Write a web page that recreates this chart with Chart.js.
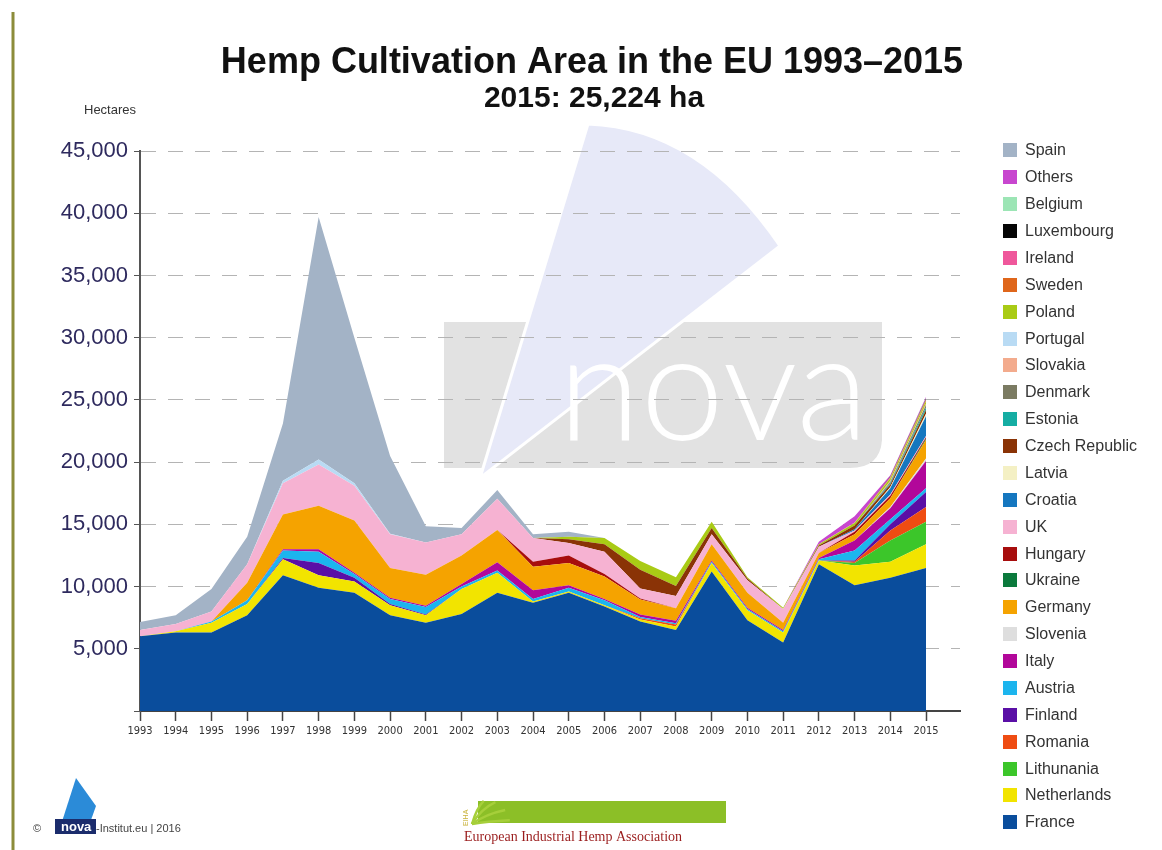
<!DOCTYPE html>
<html>
<head>
<meta charset="utf-8">
<script src="https://cdn.jsdelivr.net/npm/chart.js@4/dist/chart.umd.min.js"></script>
<style>
html, body { margin: 0; padding: 0; background: #fff; }
#wrap { position: relative; width: 1162px; height: 850px; }
#legend { position: absolute; left: 1003px; top: 137px; font: 16px "Liberation Sans", Arial, sans-serif; color: #333; }
.item { height: 26.88px; display: flex; align-items: center; }
.box { width: 14px; height: 14px; margin-right: 8px; }
</style>
</head>
<body>
<div id="wrap">
  <canvas id="chart" width="1162" height="850"></canvas>
  <div id="legend"></div>
</div>
<script>
// hectares per year, 1993..2015
var years = [1993, 1994, 1995, 1996, 1997, 1998, 1999, 2000, 2001, 2002, 2003, 2004,
             2005, 2006, 2007, 2008, 2009, 2010, 2011, 2012, 2013, 2014, 2015];
var yTicks = [0, 5000, 10000, 15000, 20000, 25000, 30000, 35000, 40000, 45000];

var france      = [6000, 6300, 6300, 7700, 10900, 9900, 9500, 7700, 7100, 7800, 9500, 8700, 9500, 8400, 7200, 6500, 11200, 7300, 5500, 11800, 10100, 10700, 11500];
var netherlands = [0, 100, 800, 900, 1300, 1000, 900, 800, 600, 2000, 1600, 100, 100, 100, 150, 300, 700, 800, 800, 300, 1600, 1300, 1900];
var lithuania   = [0, 0, 0, 0, 0, 0, 0, 0, 0, 0, 0, 0, 0, 0, 0, 0, 0, 0, 0, 0, 200, 1700, 1800];
var romania     = [0, 0, 0, 0, 0, 0, 0, 0, 0, 0, 0, 0, 0, 0, 100, 150, 0, 0, 0, 0, 100, 800, 1200];
var finland     = [0, 0, 0, 0, 100, 1000, 300, 100, 50, 0, 0, 0, 0, 0, 0, 0, 0, 0, 0, 0, 100, 500, 1200];
var austria     = [0, 0, 100, 300, 600, 900, 300, 400, 600, 200, 200, 200, 300, 400, 100, 100, 100, 100, 100, 100, 800, 400, 300];
var italy       = [0, 0, 0, 0, 100, 200, 100, 100, 100, 200, 650, 700, 200, 100, 200, 200, 100, 100, 100, 100, 800, 900, 2200];
var slovenia    = [0, 0, 0, 0, 0, 0, 0, 0, 0, 0, 0, 0, 0, 0, 0, 0, 0, 0, 0, 0, 0, 100, 200];
var germany     = [0, 0, 0, 1400, 2800, 3500, 4200, 2400, 2500, 2300, 2600, 1900, 1800, 1800, 1200, 1000, 1300, 1200, 600, 400, 500, 700, 1500];
var ukraine     = [0, 0, 0, 0, 0, 0, 0, 0, 0, 0, 0, 0, 0, 0, 0, 0, 0, 0, 0, 0, 0, 0, 100];
var hungary     = [0, 0, 0, 0, 0, 0, 0, 0, 0, 0, 0, 400, 600, 200, 100, 0, 0, 0, 0, 0, 200, 200, 100];
var uk          = [500, 600, 800, 1500, 2500, 3300, 2800, 2700, 2600, 1700, 2500, 1900, 1000, 1800, 800, 1000, 800, 1000, 1100, 500, 100, 100, 100];
var croatia     = [0, 0, 0, 0, 0, 0, 0, 0, 0, 0, 0, 0, 0, 0, 0, 0, 0, 0, 0, 0, 100, 500, 1600];
var latvia      = [0, 0, 0, 0, 0, 0, 0, 0, 0, 0, 0, 0, 0, 0, 0, 0, 0, 0, 0, 0, 0, 100, 200];
var czech       = [0, 0, 0, 0, 0, 0, 0, 0, 0, 0, 0, 0, 300, 600, 1500, 800, 500, 150, 0, 100, 300, 200, 300];
var estonia     = [0, 0, 0, 0, 0, 0, 0, 0, 0, 0, 0, 0, 0, 0, 0, 0, 0, 0, 0, 0, 0, 100, 200];
var denmark     = [0, 0, 0, 0, 0, 0, 0, 0, 0, 0, 0, 0, 0, 0, 0, 0, 0, 0, 0, 0, 0, 100, 200];
var slovakia    = [0, 0, 0, 0, 0, 0, 0, 0, 0, 0, 0, 0, 0, 0, 0, 0, 0, 0, 0, 0, 0, 100, 100];
var portugal    = [0, 0, 0, 0, 200, 400, 200, 50, 0, 0, 0, 0, 0, 0, 0, 0, 0, 0, 0, 0, 0, 0, 0];
var poland      = [0, 0, 0, 0, 0, 0, 0, 0, 0, 0, 0, 0, 200, 500, 700, 700, 500, 100, 100, 100, 200, 200, 200];
var sweden      = [0, 0, 0, 0, 0, 0, 0, 0, 0, 0, 0, 0, 0, 0, 0, 0, 0, 0, 0, 0, 0, 50, 100];
var ireland     = [0, 0, 0, 0, 0, 0, 0, 0, 0, 0, 0, 0, 0, 0, 0, 0, 0, 0, 0, 0, 50, 50, 50];
var luxembourg  = [0, 0, 0, 0, 0, 0, 0, 0, 0, 0, 0, 0, 0, 0, 0, 0, 0, 0, 0, 0, 0, 50, 50];
var belgium     = [0, 0, 0, 0, 0, 0, 0, 0, 0, 0, 0, 0, 0, 0, 0, 0, 0, 0, 0, 0, 0, 0, 50];
var others      = [0, 0, 0, 0, 0, 0, 0, 0, 0, 0, 0, 0, 0, 0, 0, 0, 0, 0, 0, 200, 500, 100, 100];
var spain       = [650, 700, 1800, 2200, 4600, 19500, 11700, 6250, 1300, 500, 700, 300, 400, 0, 0, 0, 0, 0, 0, 0, 0, 0, 0];

// stacking order, bottom to top
var countries = ["France", "Netherlands", "Lithunania", "Romania", "Finland", "Austria", "Italy", "Slovenia",
                 "Germany", "Ukraine", "Hungary", "UK", "Croatia", "Latvia", "Czech Republic", "Estonia",
                 "Denmark", "Slovakia", "Portugal", "Poland", "Sweden", "Ireland", "Luxembourg", "Belgium",
                 "Others", "Spain"];
var series = [france, netherlands, lithuania, romania, finland, austria, italy, slovenia,
              germany, ukraine, hungary, uk, croatia, latvia, czech, estonia,
              denmark, slovakia, portugal, poland, sweden, ireland, luxembourg, belgium,
              others, spain];
var colors = ["#0a4d9c", "#f2e400", "#3cc62a", "#ef4c12", "#5a0fa6", "#1cb5ee", "#b2079a", "#dedede",
              "#f5a300", "#0b7a3c", "#a70d0d", "#f6b2d2", "#1577bf", "#f4f0c4", "#8a3306", "#15ada3",
              "#7b7b62", "#f3ab8d", "#b9dbf4", "#a9cb15", "#df661b", "#ef579b", "#050505", "#9ce5b5",
              "#c846cf", "#a3b3c6"];

var datasets = countries.map(function (name, i) {
  return {
    label: name,
    data: series[i].map(function (v, j) { return {x: years[j], y: v}; }),
    backgroundColor: colors[i],
    borderWidth: 0,
    pointRadius: 0,
    fill: i === 0 ? 'origin' : '-1'
  };
});

var decor = {
  id: 'decor',
  beforeDraw: function (chart) {
    var ctx = chart.ctx;
    ctx.save();
    // watermark banner
    ctx.fillStyle = '#e2e2e2';
    ctx.beginPath();
    ctx.moveTo(444, 322);
    ctx.lineTo(882, 322);
    ctx.lineTo(882, 440);
    ctx.quadraticCurveTo(880, 468, 850, 468);
    ctx.lineTo(444, 468);
    ctx.closePath();
    ctx.fill();
    // fan
    ctx.fillStyle = '#e7e9f8';
    ctx.strokeStyle = '#ffffff';
    ctx.lineWidth = 3;
    ctx.beginPath();
    ctx.moveTo(480, 478);
    ctx.lineTo(588, 124);
    ctx.quadraticCurveTo(700, 128, 780, 246);
    ctx.closePath();
    ctx.fill();
    ctx.stroke();
    // nova
    ctx.fillStyle = '#ffffff';
    ctx.font = '300 150px Lato';
    ctx.textBaseline = 'alphabetic';
    ctx.fillText('nova', 558, 440);
    ctx.restore();
  },
  afterDraw: function (chart) {
    var ctx = chart.ctx;
    ctx.save();
    // left rule
    ctx.strokeStyle = '#8c8c3a';
    ctx.lineWidth = 3;
    ctx.beginPath();
    ctx.moveTo(13, 12);
    ctx.lineTo(13, 850);
    ctx.stroke();
    // titles
    ctx.fillStyle = '#111';
    ctx.textAlign = 'center';
    ctx.font = 'bold 36px "Liberation Sans", Arial';
    ctx.fillText('Hemp Cultivation Area in the EU 1993\u20132015', 592, 73);
    ctx.font = 'bold 30px "Liberation Sans", Arial';
    ctx.fillText('2015: 25,224 ha', 594, 107);
    ctx.textAlign = 'left';
    ctx.fillStyle = '#333';
    ctx.font = '13px "Liberation Sans", Arial';
    ctx.fillText('Hectares', 84, 114);
    // nova footer
    ctx.fillStyle = '#2b8bd8';
    ctx.beginPath();
    ctx.moveTo(58, 834);
    ctx.lineTo(76, 778);
    ctx.lineTo(96, 806);
    ctx.lineTo(86, 834);
    ctx.closePath();
    ctx.fill();
    ctx.fillStyle = '#1b2c6c';
    ctx.fillRect(55, 819, 41, 15);
    ctx.fillStyle = '#fff';
    ctx.font = 'bold 13px "Liberation Sans", Arial';
    ctx.fillText('nova', 61, 831);
    ctx.fillStyle = '#444';
    ctx.font = '11px "Liberation Sans", Arial';
    ctx.fillText('\u00a9', 33, 832);
    ctx.fillText('-Institut.eu | 2016', 96, 832);
    // EIHA footer
    ctx.fillStyle = '#8cbf27';
    ctx.fillRect(478, 801, 248, 22);
    ctx.strokeStyle = '#a6cf3a';
    ctx.lineWidth = 2.5;
    [[-1.1, 26], [-0.75, 32], [-0.4, 36], [-0.1, 38]].forEach(function (l) {
      ctx.beginPath();
      ctx.moveTo(472, 824);
      ctx.quadraticCurveTo(472 + Math.cos(l[0]) * l[1] * 0.4, 824 + Math.sin(l[0]) * l[1] * 0.7,
                           472 + Math.cos(l[0]) * l[1], 824 + Math.sin(l[0]) * l[1]);
      ctx.stroke();
    });
    ctx.save();
    ctx.translate(468, 826);
    ctx.rotate(-Math.PI / 2);
    ctx.fillStyle = '#c9b23a';
    ctx.font = '7px "Liberation Sans", Arial';
    ctx.fillText('EIHA', 0, 0);
    ctx.restore();
    ctx.fillStyle = '#9a1c1c';
    ctx.font = '14px "Liberation Serif", serif';
    ctx.fillText('European Industrial Hemp Association', 464, 841);
    ctx.restore();
  }
};

new Chart('chart', {
  type: 'line',
  data: { datasets: datasets },
  options: {
    responsive: false,
    animation: false,
    layout: { padding: { top: 151, right: 202, left: 0, bottom: 0 } },
    plugins: { legend: { display: false }, tooltip: { enabled: false } },
    elements: { line: { tension: 0, borderWidth: 0 }, point: { radius: 0 } },
    scales: {
      x: {
        type: 'linear', min: 1993, max: 2015.95,
        afterBuildTicks: function (s) { s.ticks = years.map(function (y) { return {value: y}; }); },
        afterFit: function (s) { s.height = 139; },
        grid: { drawOnChartArea: false, drawTicks: true, tickLength: 10, tickColor: '#444', tickWidth: 1.5 },
        border: { color: '#444', width: 2 },
        ticks: { autoSkip: false, maxRotation: 0, padding: 4, color: '#333',
                 font: { family: 'DejaVu Sans Condensed', size: 11 },
                 callback: function (v) { return String(v); } }
      },
      y: {
        stacked: true, min: 0, max: 45000,
        afterBuildTicks: function (s) { s.ticks = yTicks.map(function (v) { return {value: v}; }); },
        afterFit: function (s) { s.width = 140; },
        grid: { color: '#b4b4b4', lineWidth: 1, tickLength: 6, tickColor: '#555' },
        border: { dash: [15, 12], color: '#555', width: 2 },
        ticks: { padding: 6, color: '#2e2a5e', font: { family: 'Liberation Sans', size: 22 },
                 callback: function (v) { return v === 0 ? '' : v.toLocaleString('en-US'); } }
      }
    }
  },
  plugins: [decor]
});

// legend, top to bottom = reverse of stacking order
var legend = document.getElementById('legend');
countries.slice().reverse().forEach(function (name, k) {
  var i = countries.length - 1 - k;
  var row = document.createElement('div');
  row.className = 'item';
  var box = document.createElement('span');
  box.className = 'box';
  box.style.background = colors[i];
  var txt = document.createElement('span');
  txt.textContent = name;
  row.appendChild(box);
  row.appendChild(txt);
  legend.appendChild(row);
});
</script>
</body>
</html>
